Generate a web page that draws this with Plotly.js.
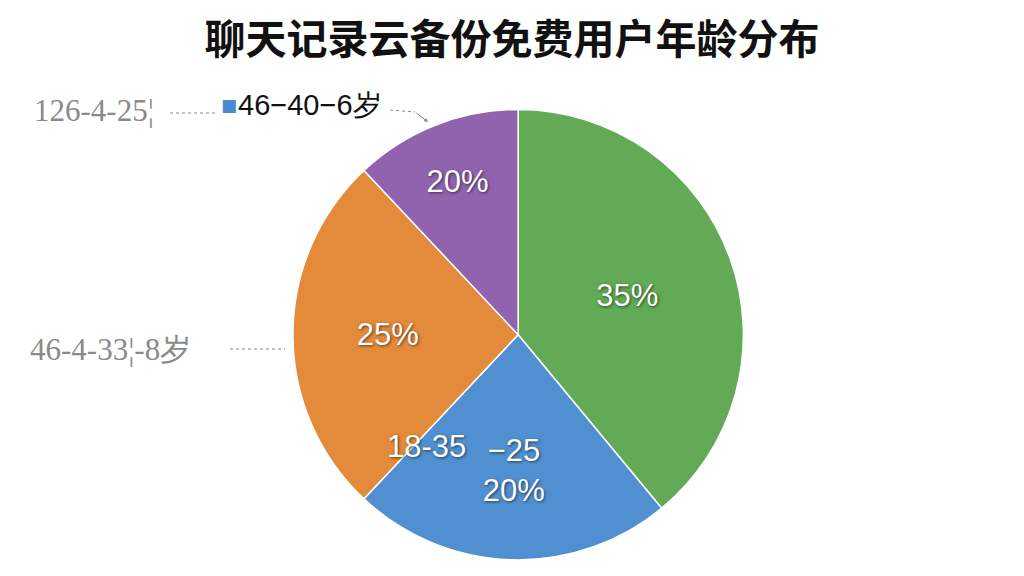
<!DOCTYPE html>
<html>
<head>
<meta charset="utf-8">
<script src="https://cdn.plot.ly/plotly-3.0.1.min.js"></script>
<style>
  html, body { margin: 0; padding: 0; background: #fff; }
  #chart { width: 1024px; height: 576px; }
</style>
</head>
<body>
<div id="chart"></div>
<script>
// slice sizes as drawn (degrees, in percent)
const SLICE_NAMES  = [ '绿色', '18-35', '25%', '20%' ];
const SLICE_VALUES = [ 39, 23, 26, 12 ];
const SLICE_TEXT   = [ '35%', '\u221225<br>20%', '25%', '20%' ];
const SLICE_COLORS = [ '#62aa56', '#5190d0', '#e48a3b', '#9163ae' ];

const TITLE      = '聊天记录云备份免费用户年龄分布';
const LEGEND_TXT = '46\u221240\u22126岁';
const SIDE_TXT   = [ '126-4-25¦', '46-4-33¦-8岁' ];
const EXTRA_TXT  = '18-35';

const white = { family: 'Liberation Sans, Arial, sans-serif', size: 31, color: '#ffffff',
                shadow: '1px 1px 3px rgba(0,0,0,0.6)' };

const trace = {
	type        : 'pie',
	labels      : SLICE_NAMES,
	values      : SLICE_VALUES,
	text        : SLICE_TEXT,
	textinfo    : 'text',
	textposition: 'inside',
	insidetextorientation: 'horizontal',
	sort        : false,
	direction   : 'clockwise',
	rotation    : 0,
	marker      : { colors: SLICE_COLORS, line: { color: '#ffffff', width: 1.5 } },
	textfont    : white,
	domain      : { x: [ 0.28, 0.732 ], y: [ 0.028, 0.81 ] },
	showlegend  : false,
	hoverinfo   : 'none'
};

const gray = { family: 'Liberation Serif, DejaVu Serif, serif', size: 31, color: '#8a8a8a' };

const layout = {
	width        : 1024,
	height       : 576,
	margin       : { l: 0, r: 0, t: 0, b: 0 },
	paper_bgcolor: '#ffffff',
	title        : {
		text: TITLE,
		x: 0.5, xanchor: 'center',
		y: 0.932, yanchor: 'middle',
		font: { family: 'Noto Sans CJK SC, sans-serif', size: 41, color: '#111111', weight: 700 }
	},
	annotations: [
		{ text: SIDE_TXT[ 0 ], xref: 'paper', yref: 'paper', x: 32 / 1024, y: 1 - 110 / 576,
		  xanchor: 'left', yanchor: 'middle', showarrow: false, font: gray },
		{ text: '■', xref: 'paper', yref: 'paper', x: 219 / 1024, y: 1 - 105 / 576,
		  xanchor: 'left', yanchor: 'middle', showarrow: false,
		  font: { family: 'DejaVu Sans, sans-serif', size: 17, color: '#4a8ad2' } },
		{ text: LEGEND_TXT, xref: 'paper', yref: 'paper', x: 236 / 1024, y: 1 - 105 / 576,
		  xanchor: 'left', yanchor: 'middle', showarrow: false,
		  font: { family: 'Liberation Sans, Arial, sans-serif', size: 29, color: '#111111' } },
		{ text: SIDE_TXT[ 1 ], xref: 'paper', yref: 'paper', x: 28 / 1024, y: 1 - 349 / 576,
		  xanchor: 'left', yanchor: 'middle', showarrow: false, font: gray },
		{ text: EXTRA_TXT, xref: 'paper', yref: 'paper', x: 426 / 1024, y: 1 - 446 / 576,
		  xanchor: 'center', yanchor: 'middle', showarrow: false, font: white },
		{ x: 428 / 1024, y: 1 - 122 / 576, xref: 'paper', yref: 'paper',
		  ax: 415 / 1024, ay: 1 - 112 / 576, axref: 'paper', ayref: 'paper',
		  text: '', showarrow: true, arrowhead: 2, arrowsize: 0.8, arrowwidth: 1, arrowcolor: '#888888' }
	],
	shapes: [
		{ type: 'line', xref: 'paper', yref: 'paper', x0: 170 / 1024, x1: 215 / 1024,
		  y0: 1 - 113 / 576, y1: 1 - 113 / 576, line: { color: '#888888', width: 1, dash: 'dot' } },
		{ type: 'line', xref: 'paper', yref: 'paper', x0: 390 / 1024, x1: 415 / 1024,
		  y0: 1 - 110 / 576, y1: 1 - 112 / 576, line: { color: '#888888', width: 1, dash: 'dot' } },
		{ type: 'line', xref: 'paper', yref: 'paper', x0: 230 / 1024, x1: 285 / 1024,
		  y0: 1 - 349 / 576, y1: 1 - 349 / 576, line: { color: '#888888', width: 1, dash: 'dot' } }
	]
};

Plotly.newPlot( 'chart', [ trace ], layout, { displayModeBar: false, staticPlot: true } );
</script>
</body>
</html>
